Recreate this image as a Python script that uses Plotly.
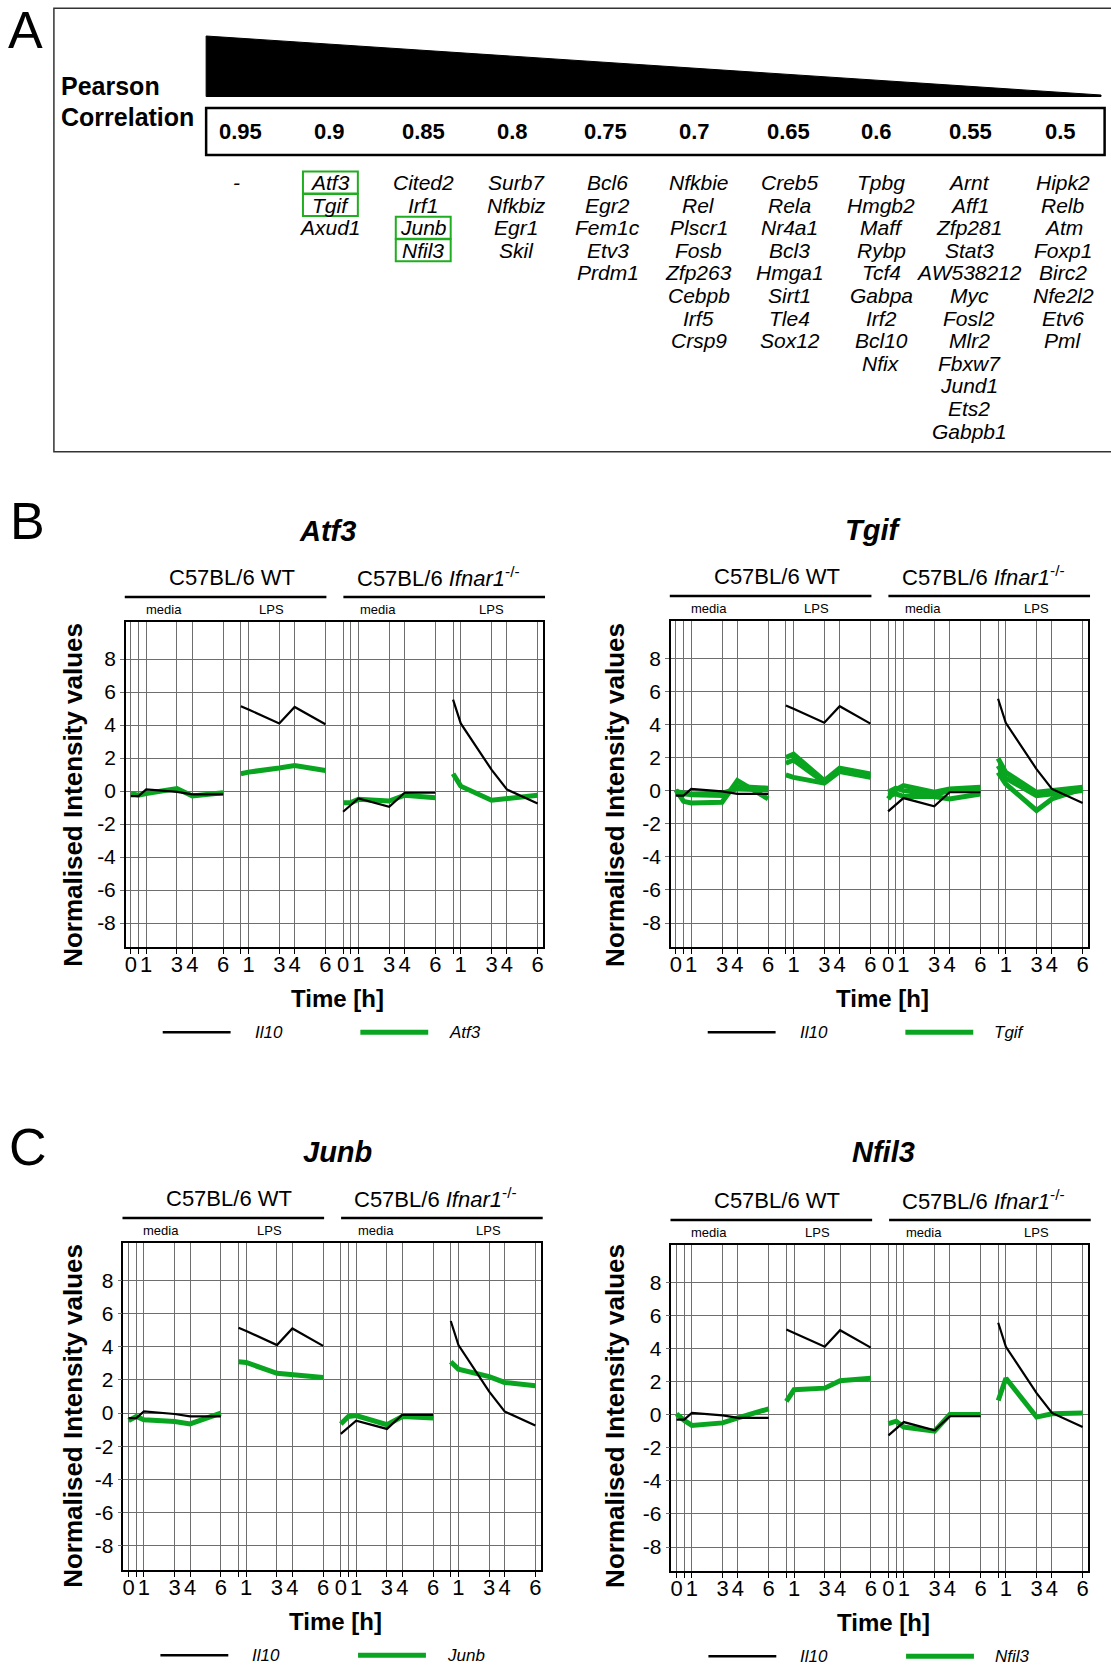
import plotly.graph_objects as go

W, H = 1111, 1666
FONT = "Liberation Sans, Arial, Helvetica, sans-serif"
GREEN = "#0aa520"
GRID = "#6e6e6e"

# ---------------- Panel A data ----------------
corr_levels = ["0.95", "0.9", "0.85", "0.8", "0.75", "0.7", "0.65", "0.6", "0.55", "0.5"]
genes_095 = ["-"]
genes_090 = ["Atf3", "Tgif", "Axud1"]
genes_085 = ["Cited2", "Irf1", "Junb", "Nfil3"]
genes_080 = ["Surb7", "Nfkbiz", "Egr1", "Skil"]
genes_075 = ["Bcl6", "Egr2", "Fem1c", "Etv3", "Prdm1"]
genes_070 = ["Nfkbie", "Rel", "Plscr1", "Fosb", "Zfp263", "Cebpb", "Irf5", "Crsp9"]
genes_065 = ["Creb5", "Rela", "Nr4a1", "Bcl3", "Hmga1", "Sirt1", "Tle4", "Sox12"]
genes_060 = ["Tpbg", "Hmgb2", "Maff", "Rybp", "Tcf4", "Gabpa", "Irf2", "Bcl10", "Nfix"]
genes_055 = ["Arnt", "Aff1", "Zfp281", "Stat3", "AW538212", "Myc", "Fosl2", "Mlr2",
             "Fbxw7", "Jund1", "Ets2", "Gabpb1"]
genes_050 = ["Hipk2", "Relb", "Atm", "Foxp1", "Birc2", "Nfe2l2", "Etv6", "Pml"]
gene_columns = [genes_095, genes_090, genes_085, genes_080, genes_075,
                genes_070, genes_065, genes_060, genes_055, genes_050]
boxed_genes = ["Atf3", "Tgif", "Junb", "Nfil3"]

# ---------------- Time-course data ----------------
media_times = [0, 0.5, 1, 3, 4, 6]
lps_times = [0.5, 1, 3, 4, 6]
labelled_times = [0, 1, 3, 4, 6]
seg_offsets = [0, 6.65, 13.8, 20.45]
y_ticks = [-8, -6, -4, -2, 0, 2, 4, 6, 8]

il10_wt_media = [-0.3, -0.3, 0.1, -0.05, -0.2, -0.2]
il10_wt_lps = [5.15, 4.95, 4.1, 5.1, 4.05]
il10_ko_media = [-1.25, -0.85, -0.45, -0.95, -0.1, -0.1]
il10_ko_lps = [5.55, 4.1, 1.3, 0.1, -0.75]

atf3_wt_media = [-0.15, -0.25, -0.15, 0.15, -0.3, -0.1]
atf3_wt_lps = [1.05, 1.15, 1.4, 1.55, 1.25]
atf3_ko_media = [-0.7, -0.7, -0.5, -0.6, -0.25, -0.4]
atf3_ko_lps = [1.05, 0.3, -0.55, -0.45, -0.25]

tgif_wt_media = [[0.05, -0.65, -0.75, -0.7, 0.6, -0.5],
                 [-0.05, -0.15, -0.25, -0.3, 0.25, 0.15],
                 [-0.1, -0.2, -0.2, -0.15, 0.1, 0.05]]
tgif_wt_lps = [[2.0, 2.2, 0.6, 1.35, 1.0],
               [1.65, 1.85, 0.5, 1.25, 0.9],
               [0.95, 0.8, 0.45, 1.15, 0.8]]
tgif_ko_media = [[-0.5, 0.05, 0.3, -0.1, 0.1, 0.2],
                 [-0.1, 0.15, 0.0, -0.25, 0.0, 0.1],
                 [-0.3, -0.2, -0.35, -0.35, -0.5, -0.2]]
tgif_ko_lps = [[1.95, 1.1, -0.1, 0.0, 0.2],
               [1.5, 0.75, -0.3, -0.2, 0.0],
               [1.1, 0.4, -1.2, -0.5, 0.1]]

junb_wt_media = [-0.45, -0.2, -0.4, -0.5, -0.65, 0.0]
junb_wt_lps = [3.1, 3.05, 2.4, 2.3, 2.15]
junb_ko_media = [-0.65, -0.2, -0.15, -0.7, -0.2, -0.3]
junb_ko_lps = [3.1, 2.65, 2.2, 1.85, 1.65]

nfil3_wt_media = [0.05, -0.35, -0.65, -0.5, -0.2, 0.35]
nfil3_wt_lps = [0.8, 1.5, 1.6, 2.05, 2.2]
nfil3_ko_media = [-0.55, -0.4, -0.75, -1.0, 0.0, 0.0]
nfil3_ko_lps = [0.85, 2.2, -0.15, 0.05, 0.1]


def px(x):
    return x / W


def py(y):
    return 1 - y / H


def seg_x():
    xs = []
    for i, off in enumerate(seg_offsets):
        times = media_times if i % 2 == 0 else lps_times
        xs += [off + t for t in times] + [None]
    return xs


def seg_y(parts):
    ys = []
    for p in parts:
        ys += list(p) + [None]
    return ys


tickvals, ticktext, minorvals = [], [], []
for i, off in enumerate(seg_offsets):
    times = media_times if i % 2 == 0 else lps_times
    for t in times:
        if t in labelled_times:
            tickvals.append(off + t)
            ticktext.append(str(int(t)))
        else:
            minorvals.append(off + t)

panels = [
    dict(gene="Atf3", left=125, right=543, top=622, bottom=947, title=(327, 531),
         ytitle=(72, 795),
         green=[[atf3_wt_media, atf3_wt_lps, atf3_ko_media, atf3_ko_lps]]),
    dict(gene="Tgif", left=671, right=1089, top=621, bottom=947, title=(874, 530),
         ytitle=(615, 795),
         green=[[tgif_wt_media[k], tgif_wt_lps[k], tgif_ko_media[k], tgif_ko_lps[k]]
                for k in range(3)]),
    dict(gene="Junb", left=122.7, right=540.7, top=1243, bottom=1570, title=(337, 1152),
         ytitle=(72, 1416),
         green=[[junb_wt_media, junb_wt_lps, junb_ko_media, junb_ko_lps]]),
    dict(gene="Nfil3", left=671.7, right=1089, top=1245, bottom=1571, title=(884, 1152),
         ytitle=(615, 1416),
         green=[[nfil3_wt_media, nfil3_wt_lps, nfil3_ko_media, nfil3_ko_lps]]),
]

fig = go.Figure()
annotations = []
shapes = []


def text(x, y, s, size, xanchor="center", yanchor="middle", angle=0, color="black"):
    annotations.append(dict(x=px(x), y=py(y), xref="paper", yref="paper", text=s,
                            showarrow=False, xanchor=xanchor, yanchor=yanchor,
                            textangle=angle,
                            font=dict(family=FONT, size=size, color=color)))


def line(x0, y0, x1, y1, color="black", width=2):
    shapes.append(dict(type="line", xref="paper", yref="paper", x0=px(x0), y0=py(y0),
                       x1=px(x1), y1=py(y1), line=dict(color=color, width=width)))


def rect(x0, y0, x1, y1, color="black", width=2):
    shapes.append(dict(type="rect", xref="paper", yref="paper", x0=px(x0), y0=py(y0),
                       x1=px(x1), y1=py(y1), line=dict(color=color, width=width)))


layout_axes = {}
for k, p in enumerate(panels):
    sfx = "" if k == 0 else str(k + 1)
    xa, ya = "x" + sfx, "y" + sfx
    for series in p["green"]:
        fig.add_trace(go.Scatter(x=seg_x(), y=seg_y(series), mode="lines",
                                 line=dict(color=GREEN, width=5), showlegend=False,
                                 xaxis=xa, yaxis=ya, connectgaps=False))
    fig.add_trace(go.Scatter(x=seg_x(), y=seg_y([il10_wt_media, il10_wt_lps,
                                                  il10_ko_media, il10_ko_lps]),
                             mode="lines", line=dict(color="black", width=2.2),
                             showlegend=False, xaxis=xa, yaxis=ya, connectgaps=False))
    layout_axes["xaxis" + sfx] = dict(
        domain=[px(p["left"]), px(p["right"])], anchor=ya, range=[-0.33, 26.8],
        tickmode="array", tickvals=tickvals, ticktext=ticktext, showgrid=True,
        gridcolor=GRID, gridwidth=1, zeroline=False, showline=True, linecolor="black",
        linewidth=1.5, mirror=True, ticks="outside", ticklen=5, tickcolor="black",
        ticklabelstandoff=-8,
        minor=dict(tickmode="array", tickvals=minorvals, showgrid=True, gridcolor=GRID,
                   gridwidth=1, ticks="outside", ticklen=5, tickcolor="black"),
        tickfont=dict(family=FONT, size=22, color="black"))
    layout_axes["yaxis" + sfx] = dict(
        domain=[py(p["bottom"]), py(p["top"])], anchor=xa, range=[-9.45, 10.25],
        tickmode="array", tickvals=y_ticks, ticktext=[str(v) for v in y_ticks],
        showgrid=True, gridcolor=GRID, gridwidth=1, zeroline=False, showline=True,
        linecolor="black", linewidth=1.5, mirror=True, ticks="outside", ticklen=4,
        tickcolor=GRID, tickfont=dict(family=FONT, size=21, color="black"))

    L, T, B = p["left"], p["top"], p["bottom"]
    # titles
    text(p["title"][0], p["title"][1], "<b><i>%s</i></b>" % p["gene"], 29)
    text(p["ytitle"][0], p["ytitle"][1], "<b>Normalised Intensity values</b>", 26, angle=-90)
    # group headers
    text(L + 106, T - 45, "C57BL/6 WT", 22)
    text(L + 313, T - 45, "C57BL/6 <i>Ifnar1</i><sup>-/-</sup>", 22)
    line(L - 1, T - 25, L + 201, T - 25, width=2.5)
    line(L + 218, T - 25, L + 420, T - 25, width=2.5)
    text(L + 38, T - 12.5, "media", 13)
    text(L + 146, T - 12.5, "LPS", 13)
    text(L + 253, T - 12.5, "media", 13)
    text(L + 366, T - 12.5, "LPS", 13)
    # x title
    text(L + 212, B + 51, "<b>Time [h]</b>", 24)
    # legend
    ly = B + 85.3
    line(L + 37, ly, L + 105, ly, width=2.5)
    text(L + 127, ly, "<i>Il10</i>", 17, xanchor="left")
    line(L + 235, ly, L + 303, ly, color=GREEN, width=5)
    text(L + 322, ly, "<i>%s</i>" % p["gene"], 17, xanchor="left")

# ---------------- Panel A ----------------
rect(53, 8.3, 1114, 451.7, color="#333333", width=1.5)
tri = "M {},{} L {},{} L {},{} L {},{} Z".format(
    px(205.5), py(36), px(1102), py(95), px(1102), py(96.5), px(205.5), py(96.5))
shapes.append(dict(type="path", xref="paper", yref="paper", path=tri,
                   fillcolor="black", line=dict(color="black", width=1)))
rect(205.5, 108, 1105.6, 155, width=2.5)
text(58, 86, "<b>Pearson</b>", 25, xanchor="left")
text(58, 117, "<b>Correlation</b>", 25, xanchor="left")

level_x = [239.5, 329.5, 423, 512, 606, 694.5, 789, 877.5, 971, 1061]
gene_x = [236, 330, 423, 516, 608, 699, 790, 882, 970, 1064]
for lx, lev in zip(level_x, corr_levels):
    text(lx, 131, "<b>%s</b>" % lev, 22)

row0, row_step = 182.5, 22.6
for cx, col in zip(gene_x, gene_columns):
    for r, g in enumerate(col):
        yy = row0 + r * row_step
        text(cx, yy, "<i>%s</i>" % g, 21)
        if g in boxed_genes:
            rect(cx - 27.5, yy - 11, cx + 27.5, yy + 11, color="#1fae1f", width=2)

# panel letters
text(25, 30, "A", 52)
text(27, 521, "B", 52)
text(27, 1147, "C", 52)

fig.update_layout(width=W, height=H, margin=dict(l=0, r=0, t=0, b=0),
                  paper_bgcolor="white", plot_bgcolor="white",
                  annotations=annotations, shapes=shapes,
                  font=dict(family=FONT, color="black"), **layout_axes)

fig.write_html("out.html")
